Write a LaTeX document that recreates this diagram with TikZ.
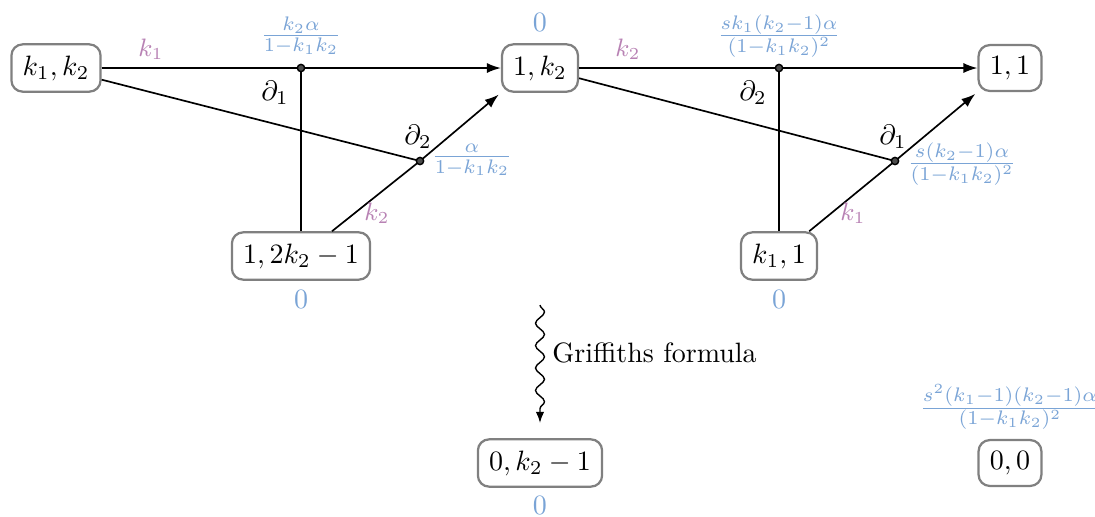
\documentclass[tikz,border=0pt]{standalone}
\usetikzlibrary{arrows.meta,decorations.pathmorphing}
\definecolor{lblue}{RGB}{122,164,214}
\definecolor{lpurple}{RGB}{184,130,180}
\begin{document}
\begin{tikzpicture}[x=0.3571pt,y=-0.3571pt,
  box/.style={draw=black!50, line width=0.8pt, rounded corners=4pt, inner sep=4pt, minimum height=16pt, fill=white},
  arr/.style={-{Latex[length=5pt,width=3.6pt]}, line width=0.6pt},
  ln/.style={line width=0.6pt},
  dot/.style={circle, draw, line width=0.5pt, fill=black!70, inner sep=0pt, minimum size=2.6pt},
  wt/.style={text=lblue},
  ct/.style={text=lpurple, font=\small},
  dl/.style={}]
\useasboundingbox (0,0) rectangle (1095,516);
% nodes
\node[box] (A) at (56,68) {$k_1,k_2$};
\node[box] (B) at (540,68) {$1,k_2$};
\node[box] (C) at (1010,68) {$1,1$};
\node[box] (D) at (301,256) {$1,2k_2-1$};
\node[box] (E) at (779,256) {$k_1,1$};
\node[box] (F) at (540,463) {$0,k_2-1$};
\node[box] (G) at (1010,463) {$0,0$};
% junctions
\coordinate (d1) at (301,68);
\coordinate (e1) at (420,161);
\coordinate (d2) at (779,68);
\coordinate (e2) at (895,161);
% left block
\draw[arr] (A) -- (B);
\draw[ln] (d1) -- (D.north);
\draw[ln] (A) -- (e1);
\draw[arr, shorten >=1pt] (D) -- (e1) -- (B.south west);
\node[dot] at (d1) {};
\node[dot] at (e1) {};
% right block
\draw[arr] (B) -- (C);
\draw[ln] (d2) -- (E.north);
\draw[ln] (B) -- (e2);
\draw[arr, shorten >=1pt] (E) -- (e2) -- (C.south west);
\node[dot] at (d2) {};
\node[dot] at (e2) {};
% labels
\node[ct] (l1) at (151,49) {$k_1$};
\node[ct] (l2) at (377,213) {$k_2$};
\node[ct] (l3) at (628,49) {$k_2$};
\node[ct] (l4) at (853,213) {$k_1$};
\node[dl] (p1) at (275,93) {$\partial_1$};
\node[dl] (p2) at (418,137) {$\partial_2$};
\node[dl] (p3) at (753,93) {$\partial_2$};
\node[dl] (p4) at (893,137) {$\partial_1$};
\node[wt] (w1) at (301,36) {$\frac{k_2\alpha}{1-k_1k_2}$};
\node[wt] (w2) at (472,160) {$\frac{\alpha}{1-k_1k_2}$};
\node[wt] (w3) at (779,36) {$\frac{sk_1(k_2-1)\alpha}{(1-k_1k_2)^2}$};
\node[wt] (w4) at (962,164) {$\frac{s(k_2-1)\alpha}{(1-k_1k_2)^2}$};
\node[wt] (w5) at (1010,407) {$\frac{s^2(k_1-1)(k_2-1)\alpha}{(1-k_1k_2)^2}$};
\node[wt] (z1) at (540,22) {$0$};
\node[wt] (z2) at (301,299) {$0$};
\node[wt] (z3) at (779,299) {$0$};
\node[wt] (z4) at (540,505) {$0$};
% Griffiths
\coordinate (s1) at (540,305);
\coordinate (s2) at (540,423);
\draw[line width=0.5pt, decorate, decoration={snake, amplitude=1.6pt, segment length=8pt, post length=5pt}, -{Latex[length=4pt,width=3pt]}] (s1) -- (s2);
\node[anchor=west, inner sep=1pt] (gf) at (549,353) {Griffiths formula};
\end{tikzpicture}
\end{document}
